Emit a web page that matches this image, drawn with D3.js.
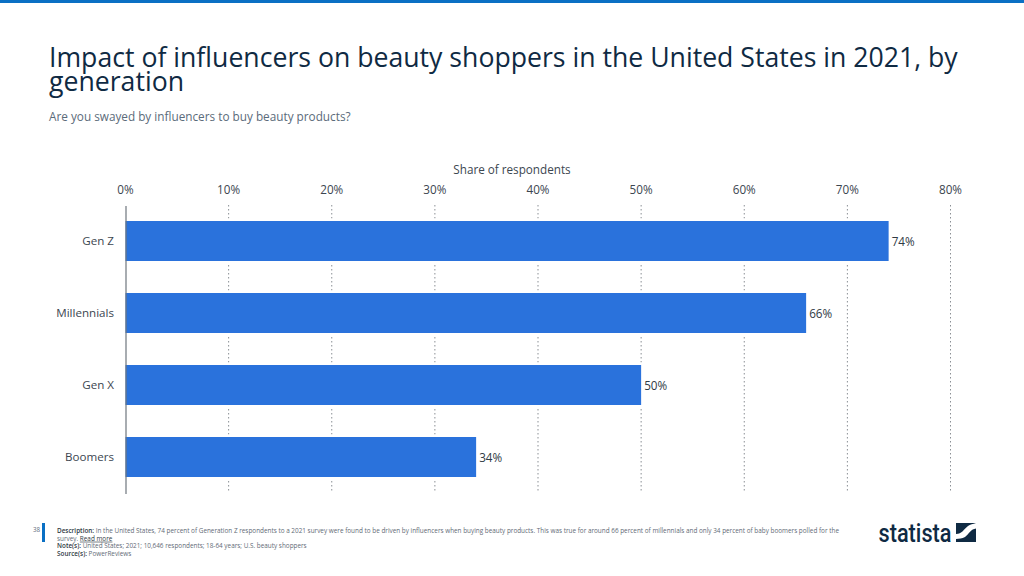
<!DOCTYPE html>
<html><head><meta charset="utf-8">
<script src="https://cdn.jsdelivr.net/npm/d3@7/dist/d3.min.js"></script>
<style>html,body{margin:0;padding:0;background:#fff}svg{display:block}text{font-family:"Open Sans",sans-serif}</style>
</head><body><svg id="c" width="1024" height="576"></svg>
<script>
const categories = ["Gen Z","Millennials","Gen X","Boomers"];
const values = [74,66,50,34];
const ticks = [0,10,20,30,40,50,60,70,80];
const titleLines = ["Impact of influencers on beauty shoppers in the United States in 2021, by","generation"];
const subtitle = "Are you swayed by influencers to buy beauty products?";
const axisTitle = "Share of respondents";
const footer = [
 [["Description: ",1],["In the United States, 74 percent of Generation Z respondents to a 2021 survey were found to be driven by influencers when buying beauty products. This was true for around 66 percent of millennials and only 34 percent of baby boomers polled for the",0]],
 [["survey. ",0],["Read more",2]],
 [["Note(s): ",1],["United States; 2021; 10,646 respondents; 18-64 years; U.S. beauty shoppers",0]],
 [["Source(s): ",1],["PowerReviews",0]]
];
const svg = d3.select("#c");
svg.append("rect").attr("width",1024).attr("height",3).attr("fill","#0a70c4");
const titleText = svg.append("text").attr("y",67).attr("font-size",26.65).attr("fill","#0f2a43");
titleText.selectAll("tspan").data(titleLines).join("tspan")
 .attr("x",49).attr("dy",(d,i)=>i?24:0).text(d=>d);
svg.append("text").attr("x",49).attr("y",120.5).attr("font-size",11.77).attr("fill","#5b6b7a").text(subtitle);

const x = d3.scaleLinear().domain([0,80]).range([125.5,950.5]);
const y = d3.scaleBand().domain(categories).range([205,493]).paddingInner(0.4444).paddingOuter(0.2222);

svg.append("text").attr("x",512).attr("y",173.5).attr("text-anchor","middle").attr("font-size",11.7).attr("fill","#3c4650").text(axisTitle);

const topAxis = svg.append("g").attr("transform","translate(-0.5,205)")
 .call(d3.axisTop(x).tickValues(ticks).tickFormat(d=>d+"%").tickSize(0).tickPadding(11));
topAxis.select(".domain").remove();
topAxis.selectAll("text").attr("font-size",11.7).attr("fill","#3c4650").style("font-family",'"Open Sans",sans-serif');

svg.append("g").selectAll("line").data(ticks.slice(1)).join("line")
 .attr("x1",d=>x(d)).attr("x2",d=>x(d)).attr("y1",205).attr("y2",493)
 .attr("stroke","#8a8f94").attr("stroke-width",1).attr("stroke-dasharray","1.5,2.5");

svg.append("g").selectAll("rect").data(values).join("rect")
 .attr("x",x(0)).attr("y",(d,i)=>y(categories[i])).attr("width",d=>x(d)-x(0)).attr("height",y.bandwidth())
 .attr("fill","#2a72dc").attr("stroke","#fff").attr("stroke-width",5).style("paint-order","stroke");

const leftAxis = svg.append("g").attr("transform","translate(125.5,0.4)")
 .call(d3.axisLeft(y).tickSize(0).tickPadding(11.5));
leftAxis.select(".domain").attr("stroke","#6e767d").attr("stroke-width",1.2);
leftAxis.selectAll("text").attr("font-size",11.6).attr("fill","#3c4650").style("font-family",'"Open Sans",sans-serif');

svg.append("g").selectAll("text").data(values).join("text")
 .attr("x",d=>x(d)+3).attr("y",(d,i)=>y(categories[i])+y.bandwidth()/2+4.5)
 .attr("font-size",11.7).attr("fill","#2f3a44").text(d=>d+"%");

svg.append("text").attr("x",33).attr("y",532).attr("font-size",6.2).attr("fill","#5b6b7a").text("38");
svg.append("rect").attr("x",42).attr("y",523).attr("width",3).attr("height",19).attr("fill","#0a70c4");
const ft = svg.append("g");
footer.forEach((ln,i)=>{
 const t = ft.append("text").attr("x",57).attr("y",533+i*7.7).attr("font-size",6.39).attr("fill","#5f6b76");
 ln.forEach(([s,k])=>{
  const ts=t.append("tspan").text(s);
  if(k===1) ts.attr("font-weight",600).attr("fill","#2f3a44");
  if(k===2) ts.attr("text-decoration","underline").attr("fill","#2f3a44");
 });
});
svg.append("text").attr("x",878.5).attr("y",541.5).attr("font-size",26).attr("font-weight",500)
 .attr("fill","#0f2a43").attr("textLength",73).attr("lengthAdjust","spacingAndGlyphs").style("font-family",'"Roboto","Open Sans",sans-serif').text("statista");
const logo = svg.append("g").attr("transform","translate(956,523)");
logo.append("rect").attr("width",20).attr("height",19).attr("fill","#0f2a43");
logo.append("path").attr("d","M0 11 C6 11 8 6 12 3 C14 1.5 17 1 20 0 L20 5.5 C15 6 13 11 9 14 C6 16 3 15.5 0 16 Z").attr("fill","#fff");
</script></body></html>
